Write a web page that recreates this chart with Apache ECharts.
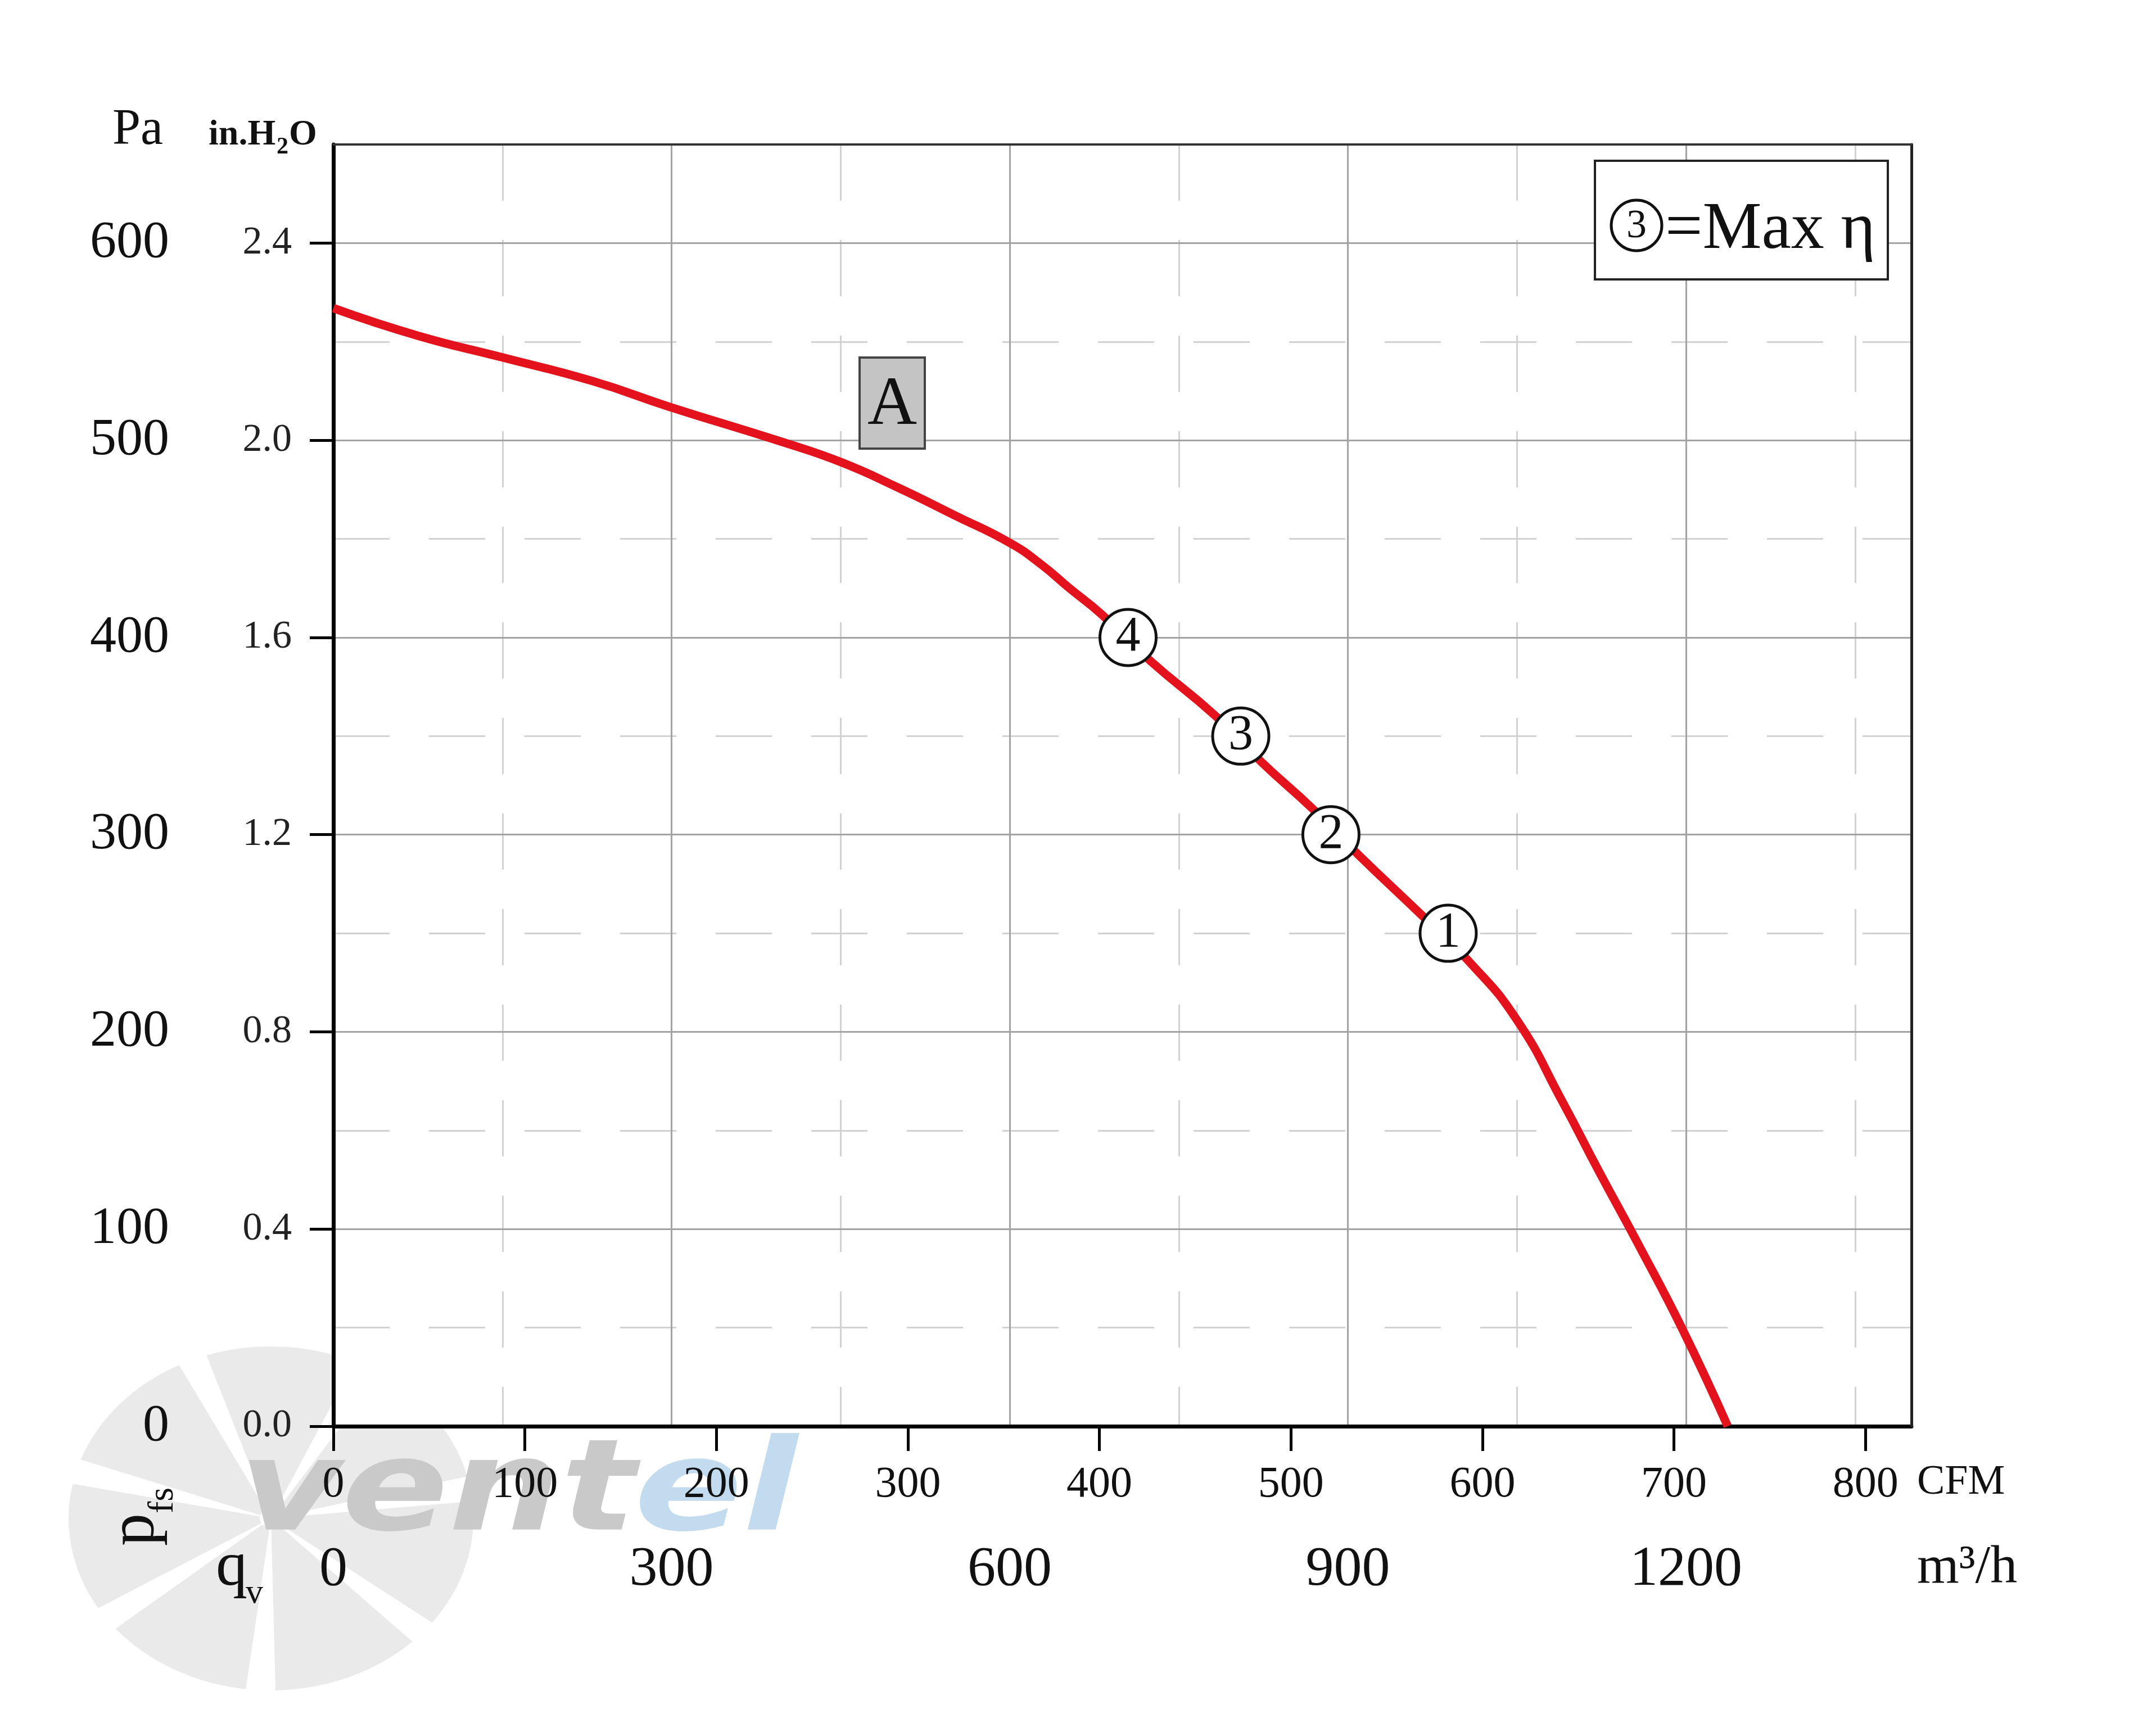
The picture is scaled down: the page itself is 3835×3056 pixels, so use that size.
<!DOCTYPE html>
<html><head><meta charset="utf-8">
<script src="https://cdn.jsdelivr.net/npm/echarts@6/dist/echarts.min.js"></script>
<style>html,body{margin:0;padding:0;background:#fff}#c{width:3835px;height:3056px}</style>
</head><body><div id="c"></div>
<script>
// ---- data (flow in m3/h, static pressure in Pa) ----
const flowM3h = [0, 75, 150, 230, 298, 399, 450, 501, 551, 600, 628, 653, 681, 725, 783, 823, 869, 909, 964, 1007, 1050, 1090, 1123, 1157, 1197, 1237];
const pressurePa = [567, 553, 542, 530, 517, 499, 489, 476, 462, 448, 437, 425, 412, 388, 360, 337, 313, 290, 260, 236, 206, 165, 129, 93, 49, 0];
const opFlow = [705, 805, 885, 989];
const opPa = [400, 350, 300, 250];
const opNames = ['4', '3', '2', '1'];
const paTicks = [0, 100, 200, 300, 400, 500, 600];
const inH2OTicks = [0, 0.4, 0.8, 1.2, 1.6, 2.0, 2.4];
const cfmTicks = [0, 100, 200, 300, 400, 500, 600, 700, 800];
const m3hTicks = [0, 300, 600, 900, 1200];
const M3H_MAX = 1400, PA_MAX = 650;
const M3H_PER_CFM = 1.69901, PA_PER_INH2O = 250;

const SERIF = "'Liberation Serif','Times New Roman',serif";
const chart = echarts.init(document.getElementById('c'), null, {renderer: 'canvas'});

function txt(text, x, y, size, opts) {
  opts = opts || {};
  return {type: 'text', x: x, y: y, z: opts.z || 20, rotation: opts.rotation || 0,
    style: {text: text, fontSize: size, fontFamily: opts.family || SERIF, fontWeight: opts.weight || 'normal',
      fontStyle: opts.style || 'normal', fill: opts.fill || '#111',
      align: opts.align || 'left', textAlign: opts.align || 'left',
      verticalAlign: opts.va || 'middle', textVerticalAlign: opts.va || 'middle'}};
}

// fan blades watermark
const blades = [];
const nBlades = 7;
for (let i = 0; i < nBlades; i++) {
  const a0 = (200 + i * 360 / nBlades) * Math.PI / 180;
  blades.push({type: 'sector', z: -10, shape: {cx: 0, cy: 0, r0: 20, r: 360, startAngle: a0, endAngle: a0 + 43 * Math.PI / 180, clockwise: true},
    style: {fill: '#eaeaea'}});
}

const graphics = [
  {type: 'group', x: 482, y: 2701, scaleY: 0.85, z: -10, children: blades},
  {type: 'text', x: 425, y: 2662, z: -9, scaleX: 1.24, style: {text: 'vent', fontSize: 226, fontFamily: "'DejaVu Sans',sans-serif", fontWeight: 'bold', fontStyle: 'italic', fill: '#c9c9c9', align: 'left', textAlign: 'left', verticalAlign: 'middle', textVerticalAlign: 'middle'}},
  {type: 'text', x: 1128, y: 2662, z: -9, scaleX: 1.26, style: {text: 'el', fontSize: 226, fontFamily: "'DejaVu Sans',sans-serif", fontWeight: 'bold', fontStyle: 'italic', fill: '#c3dbef', align: 'left', textAlign: 'left', verticalAlign: 'middle', textVerticalAlign: 'middle'}},
  // axis header units
  txt('Pa', 245, 232, 90, {align: 'center'}),
  txt('in.H', 371, 240, 64, {weight: 'bold'}),
  txt('2', 492, 262, 42, {weight: 'bold'}),
  txt('O', 514, 240, 64, {weight: 'bold'}),
  // p_fs rotated
  {type: 'group', x: 300, y: 2750, rotation: Math.PI / 2, z: 20, children: [
    txt('p', 0, 0, 116, {va: 'bottom'}),
    txt('fs', 58, 22, 64, {va: 'bottom'})
  ]},
  // q_v
  txt('q', 384, 2790, 112, {}),
  txt('v', 437, 2835, 62, {}),
  // x units
  txt('CFM', 3410, 2638, 74, {}),
  txt('m³/h', 3410, 2790, 96, {}),
  // A box
  {type: 'rect', z: 20, shape: {x: 1529, y: 636, width: 116, height: 162}, style: {fill: '#c4c4c4', stroke: '#444', lineWidth: 4}},
  txt('A', 1587, 722, 122, {align: 'center', z: 21}),
  // legend box
  {type: 'rect', z: 20, shape: {x: 2837, y: 286, width: 521, height: 211}, style: {fill: '#fff', stroke: '#222', lineWidth: 4}},
  {type: 'circle', z: 21, shape: {cx: 2911, cy: 401, r: 45}, style: {fill: 'none', stroke: '#111', lineWidth: 5}},
  txt('3', 2911, 403, 72, {align: 'center', z: 22}),
  txt('=Max η', 2962, 410, 118, {z: 22})
];

const option = {
  backgroundColor: '#fff',
  animation: false,
  grid: {left: 593, right: 435, top: 257, bottom: 519, show: true, backgroundColor: '#fff', borderWidth: 0, z: 0},
  xAxis: [
    {type: 'value', position: 'bottom', min: 0, max: M3H_MAX, interval: 300, z: 1,
      axisLine: {show: true, onZero: false, lineStyle: {color: '#000', width: 7}},
      axisTick: {show: false},
      axisLabel: {customValues: m3hTicks, margin: 206, fontSize: 100, fontFamily: SERIF, color: '#111',
        formatter: v => String(v)},
      splitLine: {show: true, lineStyle: {color: '#a3a3a3', width: 3}}},
    {type: 'value', position: 'bottom', min: 0, max: M3H_MAX / M3H_PER_CFM, interval: 100, z: 1,
      axisLine: {show: false, onZero: false},
      axisTick: {show: true, customValues: cfmTicks, inside: false, length: 44, lineStyle: {color: '#000', width: 5}},
      axisLabel: {customValues: cfmTicks, margin: 66, fontSize: 78, fontFamily: SERIF, color: '#111',
        formatter: v => String(v)},
      splitLine: {show: false}},
    {type: 'value', position: 'bottom', min: 0, max: M3H_MAX, interval: 150, z: 0,
      axisLine: {show: false}, axisTick: {show: false}, axisLabel: {show: false},
      splitLine: {show: true, lineStyle: {color: '#d2d2d2', width: 3, type: [100, 70]}}},
    {type: 'value', position: 'top', min: 0, max: M3H_MAX, z: 3,
      axisLine: {show: true, onZero: false, lineStyle: {color: '#333', width: 4}},
      axisTick: {show: false}, axisLabel: {show: false}, splitLine: {show: false}}
  ],
  yAxis: [
    {type: 'value', position: 'left', min: 0, max: PA_MAX, interval: 100, z: 1,
      axisLine: {show: true, onZero: false, lineStyle: {color: '#000', width: 7}},
      axisTick: {show: false},
      axisLabel: {customValues: paTicks, margin: 292, fontSize: 94, fontFamily: SERIF, color: '#111'},
      splitLine: {show: true, lineStyle: {color: '#a3a3a3', width: 3}}},
    {type: 'value', position: 'left', min: 0, max: PA_MAX / PA_PER_INH2O, interval: 0.4, z: 1,
      axisLine: {show: false, onZero: false},
      axisTick: {show: true, customValues: inH2OTicks, inside: false, length: 42, lineStyle: {color: '#000', width: 5}},
      axisLabel: {customValues: inH2OTicks, margin: 74, fontSize: 70, fontFamily: SERIF, color: '#222',
        formatter: v => Number(v).toFixed(1)},
      splitLine: {show: false}},
    {type: 'value', position: 'left', min: 0, max: PA_MAX, interval: 50, z: 0,
      axisLine: {show: false}, axisTick: {show: false}, axisLabel: {show: false},
      splitLine: {show: true, lineStyle: {color: '#d2d2d2', width: 3, type: [100, 70]}}},
    {type: 'value', position: 'right', min: 0, max: PA_MAX, z: 3,
      axisLine: {show: true, onZero: false, lineStyle: {color: '#222', width: 5}},
      axisTick: {show: false}, axisLabel: {show: false}, splitLine: {show: false}}
  ],
  series: [
    {type: 'line', xAxisIndex: 0, yAxisIndex: 0, z: 2,
      data: flowM3h.map((x, i) => [x, pressurePa[i]]),
      smooth: 0.5, showSymbol: false, symbol: 'none',
      lineStyle: {color: '#e3121c', width: 15}},
    {type: 'scatter', xAxisIndex: 0, yAxisIndex: 0, z: 4,
      data: opFlow.map((x, i) => [x, opPa[i], opNames[i]]),
      symbol: 'circle', symbolSize: 100,
      itemStyle: {color: '#fff', borderColor: '#111', borderWidth: 5, opacity: 1},
      label: {show: true, position: 'inside', formatter: p => p.data[2], fontSize: 88, fontFamily: SERIF, color: '#111'}}
  ],
  graphic: graphics
};
chart.setOption(option);
</script></body></html>
